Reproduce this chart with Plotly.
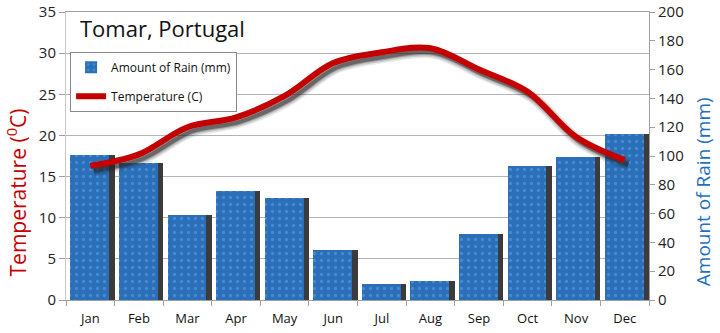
import plotly.graph_objects as go

# Monthly climate normals for Tomar, Portugal
months = ["Jan", "Feb", "Mar", "Apr", "May", "Jun",
          "Jul", "Aug", "Sep", "Oct", "Nov", "Dec"]
rain_mm = [101, 95, 59, 76, 71, 35, 11, 13, 46, 93, 99, 115]
temp_c = [16.3, 17.7, 21.0, 22.2, 24.8, 28.8, 30.1, 30.6, 28.0, 25.3, 19.8, 17.0]

temp_ticks = [0, 5, 10, 15, 20, 25, 30, 35]
rain_ticks = list(range(0, 201, 20))

FONT = "Open Sans"
RED = "#c40000"
BLUE = "#1e6fc0"
GRID = "#b4b4b4"

# pixel offsets for the drop shadows, converted to axis units
cat_px = 583 / 12.0
temp_px = 288 / 35.0
shadow_dx = 3.5 / cat_px
shadow_dy = 4.5 / temp_px

fig = go.Figure()

# dark side face behind each bar
fig.add_trace(go.Bar(
    x=months, y=rain_mm, xaxis="x", yaxis="y",
    width=0.8, offset=-0.3,
    marker=dict(color="#3b3b3b", line=dict(width=0)),
    showlegend=False, hoverinfo="skip",
))

# rain bars with a droplet texture
fig.add_trace(go.Bar(
    x=months, y=rain_mm, xaxis="x", yaxis="y",
    width=0.8, offset=-0.41,
    name="Amount of Rain (mm)", legendgroup="rain",
    marker=dict(
        color="#2a6fb8",
        line=dict(width=0),
        pattern=dict(shape=".", fgcolor="#5aa2e2", fgopacity=0.55,
                     size=7, solidity=0.18),
    ),
))

# soft shadow under the temperature curve
for w, op in [(12, 0.10), (9, 0.16), (6, 0.28), (4, 0.45)]:
    fig.add_trace(go.Scatter(
        x=months, y=temp_c, xaxis="x2", yaxis="y2",
        mode="lines",
        line=dict(color="rgba(40,40,40,%.2f)" % op, width=w,
                  shape="spline", smoothing=1.0),
        showlegend=False, hoverinfo="skip",
    ))

# temperature curve
fig.add_trace(go.Scatter(
    x=months, y=temp_c, xaxis="x3", yaxis="y3",
    mode="lines", name="Temperature (C)", legendgroup="temp",
    line=dict(color=RED, width=6, shape="spline", smoothing=1.0),
))

fig.update_layout(
    width=720, height=333,
    margin=dict(l=66, r=71, t=12, b=33, autoexpand=False),
    paper_bgcolor="white", plot_bgcolor="white",
    barmode="overlay", bargap=0,
    font=dict(family=FONT, color="#222222"),
    showlegend=True,
    legend=dict(
        x=0.007, y=0.862, xanchor="left", yanchor="top",
        bgcolor="white", bordercolor="#8a8a8a", borderwidth=1,
        font=dict(size=12, family=FONT, color="#111111"),
        traceorder="grouped", itemwidth=30,
        tracegroupgap=10,
    ),
    xaxis=dict(
        type="category", categoryorder="array", categoryarray=months,
        range=[-0.5, 11.5], automargin=False,
        showline=True, linecolor="#a0a0a0", linewidth=1,
        ticks="outside", ticklen=5, tickcolor="#a0a0a0",
        tickson="boundaries", ticklabelstandoff=6,
        showgrid=False, zeroline=False,
        tickfont=dict(size=13, color="#111111"),
        mirror=True,
    ),
    yaxis=dict(
        side="right", range=[0, 200], tickvals=rain_ticks, automargin=False,
        ticks="outside", ticklen=5, tickcolor="#a0a0a0",
        showline=True, linecolor="#a0a0a0", linewidth=1,
        showgrid=False, zeroline=False,
        tickfont=dict(size=15, color="#222222"),
    ),
    xaxis2=dict(
        type="category", categoryorder="array", categoryarray=months,
        overlaying="x", range=[-0.5 - shadow_dx, 11.5 - shadow_dx],
        visible=False, automargin=False,
    ),
    yaxis2=dict(
        overlaying="y", range=[0 + shadow_dy, 35 + shadow_dy],
        visible=False, automargin=False,
    ),
    xaxis3=dict(
        type="category", categoryorder="array", categoryarray=months,
        overlaying="x", range=[-0.5, 11.5], visible=False, automargin=False,
    ),
    yaxis3=dict(
        overlaying="y", side="left", range=[0, 35], tickvals=temp_ticks,
        automargin=False,
        ticks="outside", ticklen=6, tickcolor="#a0a0a0",
        showline=True, linecolor="#c8c8c8", linewidth=1,
        showgrid=True, gridcolor=GRID, gridwidth=1,
        zeroline=False,
        tickfont=dict(size=15, color="#222222"),
    ),
    annotations=[
        dict(text="Tomar, Portugal", xref="paper", yref="paper",
             x=0.02, y=0.945, xanchor="left", yanchor="middle",
             showarrow=False,
             font=dict(size=22, family=FONT, color="#111111")),
        dict(text="Temperature (<sup>0</sup>C)", xref="paper", yref="paper",
             x=-0.085, y=0.375, xanchor="center", yanchor="middle",
             textangle=-90, showarrow=False,
             font=dict(size=21, family=FONT, color=RED)),
        dict(text="Amount of Rain (mm)", xref="paper", yref="paper",
             x=1.093, y=0.375, xanchor="center", yanchor="middle",
             textangle=-90, showarrow=False,
             font=dict(size=19, family=FONT, color=BLUE)),
    ],
)

fig.write_html("out.html")
